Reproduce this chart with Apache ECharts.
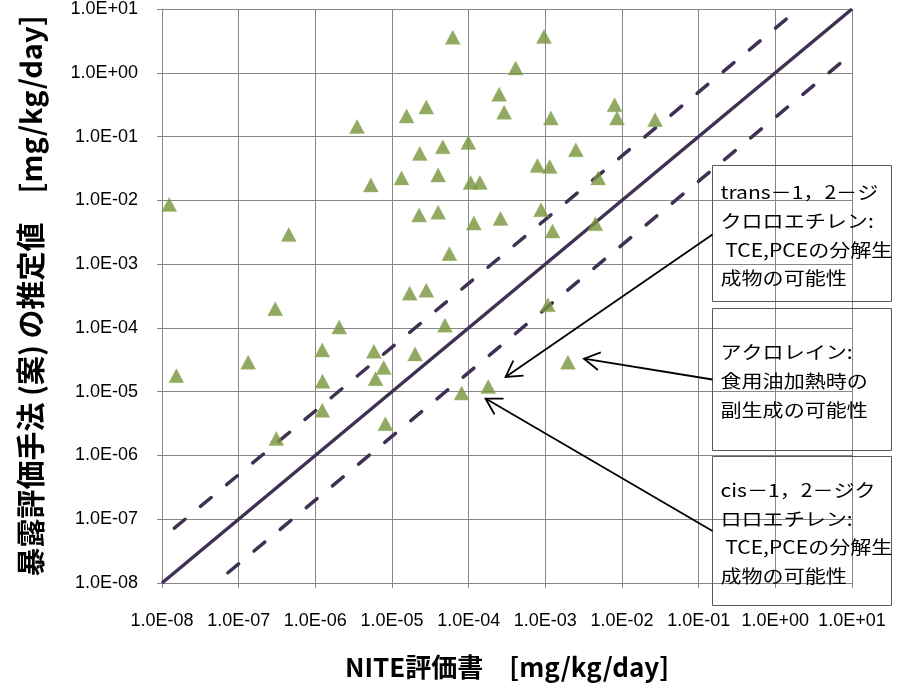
<!DOCTYPE html>
<html><head><meta charset="utf-8">
<script src="https://cdn.jsdelivr.net/npm/echarts@6/dist/echarts.min.js"></script>
<style>html,body{margin:0;padding:0;background:#fff}#c{width:904px;height:688px}</style>
</head><body><div id="c"></div>
<script>
// ---- data ----
const tickValues = [1e-8, 1e-7, 1e-6, 1e-5, 1e-4, 1e-3, 1e-2, 1e-1, 1e0, 1e1];
const tickLabels = ['1.0E-08','1.0E-07','1.0E-06','1.0E-05','1.0E-04','1.0E-03','1.0E-02','1.0E-01','1.0E+00','1.0E+01'];

// NITE評価書 (x) values
const niteValues = [
  6.2e-5, 9.6e-4, 4.1e-4, 2.5e-4, 2.9e-4, 2.8e-5, 1.55e-5, 3.5e-6, 8.0e-3, 8.6e-3,
  2.7e-2, 1.18e-3, 9.9e-5, 4.6e-5, 2.3e-5, 2.5e-3, 7.9e-4, 1.14e-3, 4.0e-5, 1.33e-5,
  5.3e-6, 1.06e-4, 1.4e-4, 4.9e-3, 1.24e-8, 2.26e-5, 4.0e-5, 1.17e-4, 2.6e-4, 8.8e-4,
  1.24e-3, 4.5e-3, 4.5e-7, 5.6e-5, 1.7e-5, 2.8e-5, 3.0e-7, 2.05e-6, 4.9e-5, 1.23e-6,
  5.8e-6, 2.0e-5, 7.8e-6, 6.1e-6, 1.33e-7, 1.54e-8, 1.24e-6, 8.1e-5, 1.8e-4, 1.08e-3,
  1.97e-3, 1.23e-6, 8.2e-6, 3.1e-7
];
// 暴露評価手法（案）の推定値 (y) values
const estimateValues = [
  3.6, 3.7, 1.19, 0.46, 0.24, 0.29, 0.21, 0.144, 0.315, 0.195,
  0.184, 0.195, 0.081, 0.069, 0.054, 0.062, 0.0353, 0.034, 0.025, 0.0224,
  0.0174, 0.0191, 0.0191, 0.0224, 8.6e-3, 5.9e-3, 6.5e-3, 4.4e-3, 5.2e-3, 7.1e-3,
  3.3e-3, 4.3e-3, 2.9e-3, 1.46e-3, 3.5e-4, 3.9e-4, 2.0e-4, 1.03e-4, 1.1e-4, 4.5e-5,
  4.3e-5, 3.9e-5, 2.4e-5, 1.6e-5, 2.9e-5, 1.78e-5, 1.45e-5, 9.5e-6, 1.2e-5, 2.3e-4,
  2.9e-5, 5.1e-6, 3.15e-6, 1.85e-6
];

// reference lines (y = x, y = 5x, y = x/5)
const parityLine = [[1e-8, 1e-8], [10, 10]];
const upperLine  = [[1e-8, 5e-8], [2, 10]];
const lowerLine  = [[5e-8, 1e-8], [10, 2]];

// annotations
const annotationTexts = [
  ['trans－1，2－ジ', 'クロロエチレン:', ' TCE,PCEの分解生', '成物の可能性'],
  ['アクロレイン:', '食用油加熱時の', '副生成の可能性'],
  ['cis－1，2－ジク', 'ロロエチレン:', ' TCE,PCEの分解生', '成物の可能性']
];
const annotationTargets = [[3.03e-4, 1.70e-5], [3.19e-3, 3.29e-5], [1.66e-4, 7.8e-6]];

// ---- chart ----
const chart = echarts.init(document.getElementById('c'), null, {renderer: 'canvas'});
const points = niteValues.map((x, i) => [x, estimateValues[i]]);
function fmt(v) {
  const e = Math.log10(v);
  const i = tickValues.findIndex(t => Math.abs(Math.log10(t) - e) < 1e-6);
  return i >= 0 ? tickLabels[i] : '';
}
const gridColor = '#878787';
const lineColor = '#403152';
const axisCommon = {
  type: 'log', logBase: 10, min: tickValues[0], max: tickValues[tickValues.length - 1],
  splitNumber: 9,
  axisLine: {show: true, lineStyle: {color: gridColor, width: 1}},
  axisTick: {show: true, length: 5, lineStyle: {color: gridColor, width: 1}},
  minorTick: {show: false},
  splitLine: {show: true, lineStyle: {color: gridColor, width: 1}},
  axisLabel: {formatter: fmt, fontFamily: '"Liberation Sans", Arial, sans-serif', fontSize: 18, color: '#000'},
  nameLocation: 'middle',
  nameTextStyle: {fontFamily: '"Noto Sans CJK JP", sans-serif', fontWeight: 'bold', color: '#000'}
};
chart.setOption({
  animation: false,
  backgroundColor: '#fff',
  grid: {left: 162, top: 9, width: 690, height: 574, containLabel: false},
  xAxis: Object.assign({}, axisCommon, {
    name: 'NITE評価書　[mg/kg/day]', nameGap: 71,
    axisLabel: Object.assign({}, axisCommon.axisLabel, {margin: 29}),
    nameTextStyle: Object.assign({}, axisCommon.nameTextStyle, {fontSize: 26})
  }),
  yAxis: Object.assign({}, axisCommon, {
    name: '暴露評価手法 (案) の推定値　[mg/kg/day]', nameGap: 117,
    axisLabel: Object.assign({}, axisCommon.axisLabel, {margin: 24}),
    nameTextStyle: Object.assign({}, axisCommon.nameTextStyle, {fontSize: 29})
  }),
  series: [
    {type: 'line', data: parityLine, symbol: 'none', z: 2, silent: true,
     lineStyle: {color: lineColor, width: 3.5}},
    {type: 'line', data: upperLine, symbol: 'none', z: 2, silent: true,
     lineStyle: {color: lineColor, width: 3.5, type: [14, 20], dashOffset: 18, cap: 'round'}},
    {type: 'line', data: lowerLine, symbol: 'none', z: 2, silent: true,
     lineStyle: {color: lineColor, width: 3.5, type: [14, 20], dashOffset: 18, cap: 'round'}},
    {type: 'scatter', data: points, symbol: 'triangle', symbolSize: [15, 14], z: 3,
     itemStyle: {color: '#77933c', borderColor: '#9bb565', borderWidth: 0.5}}
  ]
});

// annotation boxes (pixel layout) + arrows pointing at data positions
const boxLayout = [
  {x: 712.5, y: 165.5, w: 179, h: 136, first: 27, step: 28.7},
  {x: 712.5, y: 308.5, w: 179, h: 142, first: 43.5, step: 29},
  {x: 712.5, y: 456.5, w: 179, h: 149, first: 34, step: 28.5}
];
const arrowStartY = [234.5, 379.5, 531];
const graphics = [];
boxLayout.forEach((b, k) => {
  graphics.push({type: 'rect', z: 100, shape: {x: b.x, y: b.y, width: b.w, height: b.h},
    style: {fill: 'none', stroke: '#595959', lineWidth: 1}});
  annotationTexts[k].forEach((t, j) => {
    graphics.push({type: 'text', z: 101, x: 720.5, y: b.y + b.first + j * b.step, scaleX: 1.17,
      style: {text: t, x: 0, y: 0, font: '18px "Noto Sans CJK JP", sans-serif', fill: '#000',
        verticalAlign: 'middle', textVerticalAlign: 'middle'}});
  });
  const tip = chart.convertToPixel({xAxisIndex: 0, yAxisIndex: 0}, annotationTargets[k]);
  const sx = b.x, sy = arrowStartY[k];
  graphics.push({type: 'line', z: 102, shape: {x1: sx, y1: sy, x2: tip[0], y2: tip[1]},
    style: {stroke: '#000', lineWidth: 1.8}});
  const ang = Math.atan2(sy - tip[1], sx - tip[0]);
  const L = 18, h = Math.PI / 6;
  graphics.push({type: 'polyline', z: 102, shape: {points: [
      [tip[0] + L * Math.cos(ang - h), tip[1] + L * Math.sin(ang - h)],
      [tip[0], tip[1]],
      [tip[0] + L * Math.cos(ang + h), tip[1] + L * Math.sin(ang + h)]]},
    style: {stroke: '#000', lineWidth: 1.8, fill: 'none'}});
});
chart.setOption({graphic: graphics});
</script></body></html>
